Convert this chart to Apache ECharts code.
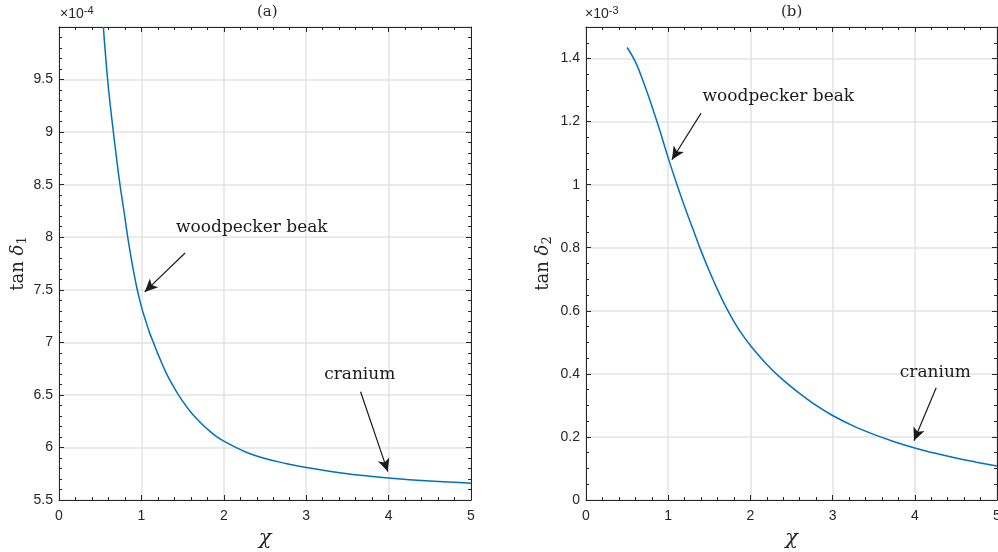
<!DOCTYPE html>
<html>
<head>
<meta charset="utf-8">
<script src="https://cdn.jsdelivr.net/npm/echarts@6/dist/echarts.min.js"></script>
<style>
  html, body { margin: 0; padding: 0; background: #fff; }
  #chart { width: 998px; height: 552px; }
</style>
</head>
<body>
<div id="chart"></div>
<script>
// panel (a): tan delta_1 (x 1e-4) vs chi
const chiA = [0.538, 0.56, 0.59, 0.62, 0.66, 0.70, 0.74, 0.79, 0.834, 0.89, 0.95, 1.0, 1.05, 1.1, 1.15, 1.2, 1.3, 1.4, 1.5, 1.6, 1.7, 1.8, 1.9, 2.0, 2.25, 2.5, 2.75, 3.0, 3.5, 4.0, 4.5, 5.0];
const tanA = [10.0, 9.78, 9.5, 9.27, 9.0, 8.74, 8.5, 8.24, 8.0, 7.74, 7.5, 7.34, 7.21, 7.09, 6.99, 6.89, 6.71, 6.565, 6.44, 6.335, 6.25, 6.175, 6.11, 6.06, 5.962, 5.895, 5.848, 5.81, 5.75, 5.71, 5.68, 5.66];

// panel (b): tan delta_2 (x 1e-3) vs chi
const chiB = [0.5, 0.6, 0.7, 0.8, 0.9, 1.0, 1.1, 1.2, 1.3, 1.4, 1.5, 1.6, 1.7, 1.8, 1.9, 2.0, 2.2, 2.4, 2.6, 2.8, 3.0, 3.25, 3.5, 3.75, 4.0, 4.25, 4.5, 4.75, 5.0];
const tanB = [1.435, 1.39, 1.325, 1.25, 1.17, 1.085, 1.005, 0.93, 0.86, 0.79, 0.726, 0.667, 0.613, 0.566, 0.525, 0.49, 0.43, 0.38, 0.338, 0.30, 0.268, 0.235, 0.208, 0.185, 0.165, 0.148, 0.133, 0.12, 0.108];

// annotations: [text, textX, textY, arrowFromX, arrowFromY, arrowToX, arrowToY]
const notesA = [
  ["woodpecker beak", 2.34, 8.09, 1.53, 7.85, 1.04, 7.48],
  ["cranium", 3.65, 6.69, 3.66, 6.53, 3.99, 5.77]
];
const notesB = [
  ["woodpecker beak", 2.34, 1.278, 1.40, 1.227, 1.045, 1.079],
  ["cranium", 4.25, 0.403, 4.26, 0.356, 3.99, 0.188]
];

const axisColor = "#262626";
const gridColor = "#e3e3e3";
const lineColor = "#0072BD";
const serif = "DejaVu Serif";
const sans = "Liberation Sans";

const chart = echarts.init(document.getElementById("chart"));

function bottomX(gridIndex) {
  return {
    type: "value", gridIndex, min: 0, max: 5, interval: 1,
    name: "χ", nameLocation: "middle", nameGap: 27,
    nameTextStyle: { fontFamily: serif, fontStyle: "italic", fontSize: 21, color: axisColor },
    axisLine: { onZero: false, lineStyle: { color: axisColor, width: 1 } },
    axisTick: { inside: true, length: 5, lineStyle: { color: axisColor } },
    minorTick: { show: true, splitNumber: 5, length: 3, lineStyle: { color: axisColor } },
    axisLabel: { color: axisColor, fontFamily: sans, fontSize: 14, margin: 9 },
    splitLine: { show: true, lineStyle: { color: gridColor, width: 1.5 } }
  };
}

function topX(gridIndex) {
  return {
    type: "value", gridIndex, position: "top", min: 0, max: 5, interval: 1,
    axisLine: { onZero: false, lineStyle: { color: axisColor, width: 1 } },
    axisTick: { inside: true, length: 5, lineStyle: { color: axisColor } },
    minorTick: { show: true, splitNumber: 5, length: 3, lineStyle: { color: axisColor } },
    axisLabel: { show: false },
    splitLine: { show: false }
  };
}

function leftY(gridIndex, min, max, interval, minorSplit, sub, gap) {
  return {
    type: "value", gridIndex, min, max, interval,
    name: "{n|tan }{d|δ}{s|" + sub + "}", nameLocation: "middle", nameGap: gap,
    nameTextStyle: {
      color: axisColor,
      rich: {
        n: { fontFamily: serif, fontSize: 18, color: axisColor },
        d: { fontFamily: serif, fontStyle: "italic", fontSize: 18, color: axisColor },
        s: { fontFamily: serif, fontSize: 13, color: axisColor, verticalAlign: "bottom", padding: [8, 0, 0, 0] }
      }
    },
    axisLine: { onZero: false, lineStyle: { color: axisColor, width: 1 } },
    axisTick: { inside: true, length: 5, lineStyle: { color: axisColor } },
    minorTick: { show: true, splitNumber: minorSplit, length: 3, lineStyle: { color: axisColor } },
    axisLabel: { color: axisColor, fontFamily: sans, fontSize: 14, margin: 6, showMaxLabel: false },
    splitLine: { show: true, lineStyle: { color: gridColor, width: 1.5 } }
  };
}

function rightY(gridIndex, min, max, interval, minorSplit) {
  return {
    type: "value", gridIndex, position: "right", min, max, interval,
    axisLine: { show: true, onZero: false, lineStyle: { color: axisColor, width: 1 } },
    axisTick: { show: true, inside: true, length: 5, lineStyle: { color: axisColor } },
    minorTick: { show: true, splitNumber: minorSplit, length: 3, lineStyle: { color: axisColor } },
    axisLabel: { show: false },
    splitLine: { show: false }
  };
}

function curve(xIdx, yIdx, xs, ys, notes) {
  return {
    type: "line", xAxisIndex: xIdx, yAxisIndex: yIdx,
    data: xs.map((x, i) => [x, ys[i]]),
    showSymbol: false, smooth: 0.4, silent: true,
    lineStyle: { color: lineColor, width: 1.5 },
    markLine: {
      silent: true,
      symbol: ["none", "arrow"],
      symbolSize: [9, 13],
      lineStyle: { color: "#1a1a1a", width: 1.2, type: "solid" },
      label: { show: false },
      data: notes.map((n) => [{ coord: [n[3], n[4]] }, { coord: [n[5], n[6]] }])
    },
    markPoint: {
      silent: true,
      symbol: "circle", symbolSize: 0,
      label: {
        show: true, position: "inside", formatter: "{b}",
        fontFamily: serif, fontSize: 17, color: "#1a1a1a"
      },
      data: notes.map((n) => ({ name: n[0], coord: [n[1], n[2]] }))
    }
  };
}

const expStyle = (txt) => ({
  text: "×10{e|" + txt + "}", fontFamily: sans, fontSize: 14, fill: axisColor,
  rich: { e: { fontFamily: sans, fontSize: 11, fill: axisColor, verticalAlign: "top", padding: [0, 0, 7, 0] } }
});

const option = {
  animation: false,
  backgroundColor: "#fff",
  grid: [
    { left: 59, top: 27, width: 412, height: 473, outerBoundsMode: "none" },
    { left: 586, top: 27, width: 411, height: 473, outerBoundsMode: "none" }
  ],
  xAxis: [bottomX(0), topX(0), bottomX(1), topX(1)],
  yAxis: [
    leftY(0, 5.5, 10, 0.5, 5, "1", 30),
    rightY(0, 5.5, 10, 0.5, 5),
    leftY(1, 0, 1.5, 0.2, 4, "2", 32),
    rightY(1, 0, 1.5, 0.2, 4)
  ],
  series: [
    curve(0, 0, chiA, tanA, notesA),
    curve(2, 2, chiB, tanB, notesB)
  ],
  graphic: [
    { type: "text", left: 60, top: 5, style: expStyle("-4") },
    { type: "text", left: 585, top: 5, style: expStyle("-3") },
    { type: "text", left: 257, top: 5, style: { text: "(a)", fontFamily: serif, fontSize: 15, fill: axisColor } },
    { type: "text", left: 781, top: 5, style: { text: "(b)", fontFamily: serif, fontSize: 15, fill: axisColor } }
  ]
};

chart.setOption(option);
</script>
</body>
</html>
